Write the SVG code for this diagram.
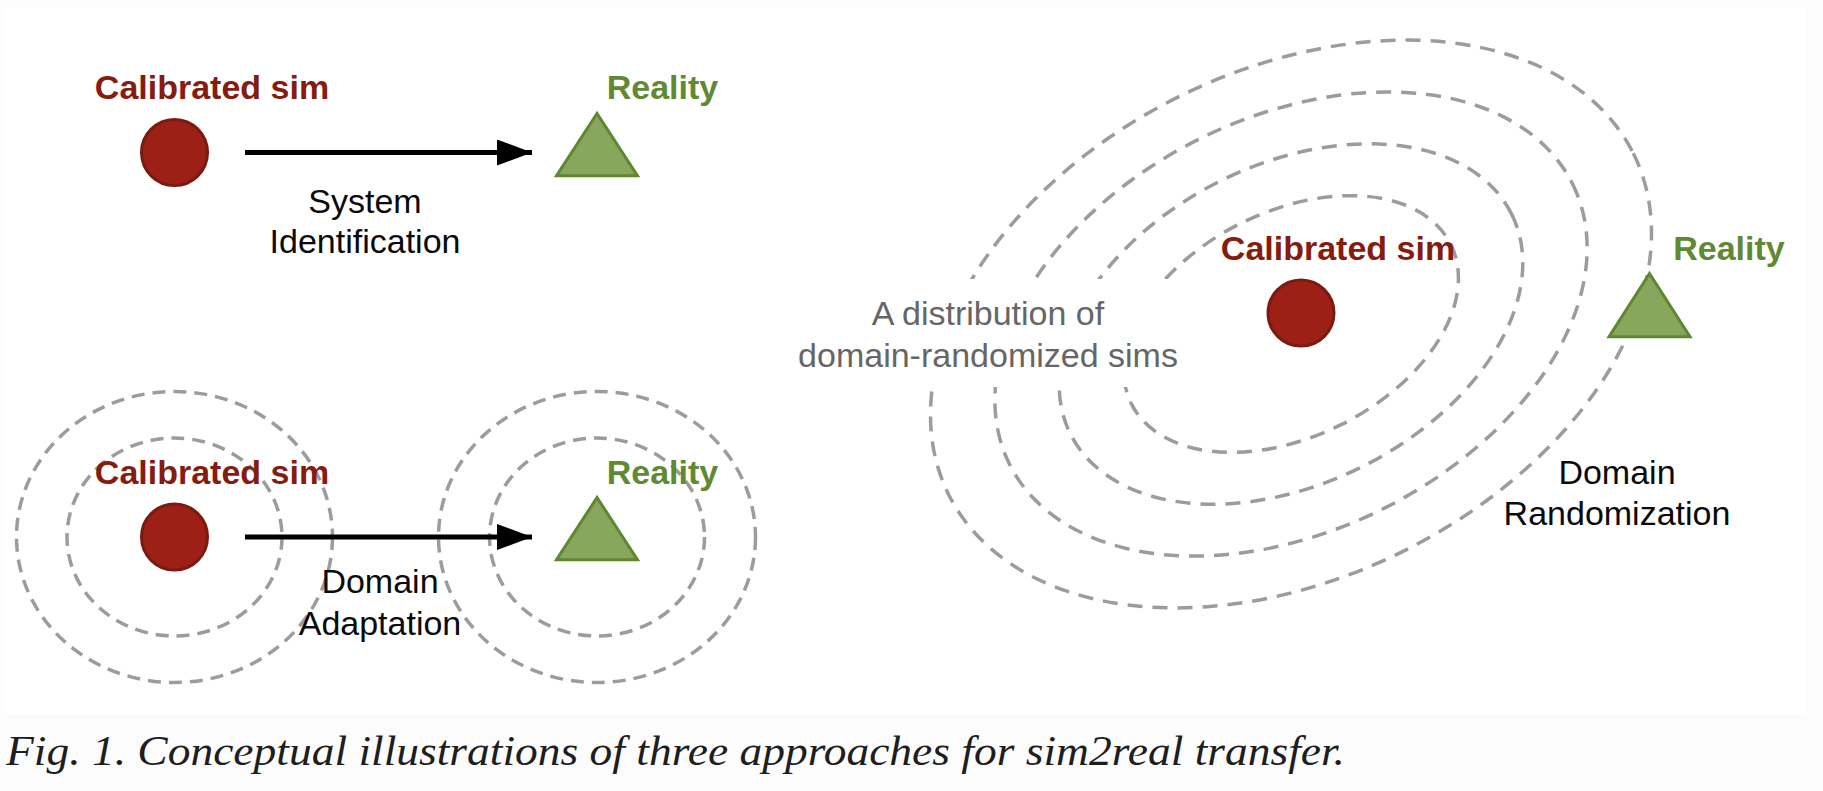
<svg xmlns="http://www.w3.org/2000/svg" width="1823" height="791" viewBox="0 0 1823 791">
<style>
.lbl{font-family:"Liberation Sans",Arial,sans-serif;font-size:34px;text-anchor:middle}
.sim{fill:#861b10;font-weight:bold}
.real{fill:#5f8a33;font-weight:bold}
.desc{fill:#0a0a0a}
.gray{fill:#666}
.dot{fill:#9c2015;stroke:#7a1a10;stroke-width:3}
.tri{fill:#88a65c;stroke:#5d8731;stroke-width:3;stroke-linejoin:miter}
.dash{fill:none;stroke:#9c9c9c;stroke-width:3.5;stroke-dasharray:13 8}
.dash2{fill:none;stroke:#9c9c9c;stroke-width:3.5;stroke-dasharray:15 10}
.edge{stroke:#000;stroke-width:5;fill:none}
.cap{font-family:"Liberation Serif","Times New Roman",serif;font-style:italic;font-size:42px;fill:#1e1e1e}
</style>
<defs>
<marker id="ah" markerUnits="userSpaceOnUse" markerWidth="36" markerHeight="26" refX="35" refY="13" orient="auto">
<path d="M0,0 L35,13 L0,26 Z" fill="#000"/>
</marker>
</defs>
<rect x="0" y="0" width="1823" height="791" fill="#fcfcfc"/>
<rect x="4" y="8" width="1802" height="706" fill="#fff"/>

<!-- Panel 1: System Identification -->
<g id="sysid-sim">
<circle class="dot" cx="174.5" cy="152.5" r="33"/>
<text class="lbl sim" x="212" y="99">Calibrated sim</text>
</g>
<g id="sysid-real">
<polygon class="tri" points="597,113.5 556.5,175.8 637.5,175.8"/>
<text class="lbl real" x="662.5" y="99">Reality</text>
</g>
<g id="sysid-label">
<text class="lbl desc" x="365" y="213">System</text>
<text class="lbl desc" x="365" y="253">Identification</text>
</g>

<!-- Panel 2: Domain Adaptation -->
<g id="da-sim">
<ellipse class="dash" cx="174.5" cy="537" rx="158" ry="145.5"/>
<ellipse class="dash" cx="174.5" cy="537" rx="107.5" ry="99"/>
<circle class="dot" cx="174.5" cy="537" r="33"/>
<text class="lbl sim" x="212" y="483.5">Calibrated sim</text>
</g>
<g id="da-real">
<ellipse class="dash" cx="597" cy="537" rx="158.5" ry="145.5"/>
<ellipse class="dash" cx="597" cy="537" rx="107.5" ry="99"/>
<polygon class="tri" points="597,497.5 556.5,559.8 637.5,559.8"/>
<text class="lbl real" x="662.5" y="483.5">Reality</text>
</g>
<g id="da-label">
<text class="lbl desc" x="380" y="593">Domain</text>
<text class="lbl desc" x="380" y="635">Adaptation</text>
</g>

<!-- Panel 3: Domain Randomization -->
<g id="dr-distribution">
<g transform="rotate(-26.5 1291 324)">
<ellipse class="dash2" cx="1291" cy="324" rx="178.5" ry="112.5"/>
<ellipse class="dash2" cx="1291" cy="324" rx="246.5" ry="159.5"/>
<ellipse class="dash2" cx="1291" cy="324" rx="314.5" ry="206.5"/>
<ellipse class="dash2" cx="1291" cy="324" rx="382.5" ry="253.5"/>
</g>
<rect x="780" y="279" width="410" height="108" fill="#fff"/>
<text class="lbl gray" x="988" y="325">A distribution of</text>
<text class="lbl gray" x="988" y="367">domain-randomized sims</text>
</g>
<g id="dr-sim">
<circle class="dot" cx="1301" cy="313" r="33"/>
<text class="lbl sim" x="1338" y="260">Calibrated sim</text>
</g>
<g id="dr-real">
<polygon class="tri" points="1649.5,273.5 1609,336.8 1690,336.8"/>
<text class="lbl real" x="1729" y="260">Reality</text>
</g>
<g id="dr-label">
<text class="lbl desc" x="1617" y="484">Domain</text>
<text class="lbl desc" x="1617" y="525">Randomization</text>
</g>

<g id="connectors">
<line class="edge" x1="245" y1="152.5" x2="532" y2="152.5" marker-end="url(#ah)"/>
<line class="edge" x1="245" y1="537" x2="532" y2="537" marker-end="url(#ah)"/>
</g>

<text class="cap" x="6" y="765" textLength="1339" lengthAdjust="spacingAndGlyphs">Fig. 1. Conceptual illustrations of three approaches for sim2real transfer.</text>
</svg>
